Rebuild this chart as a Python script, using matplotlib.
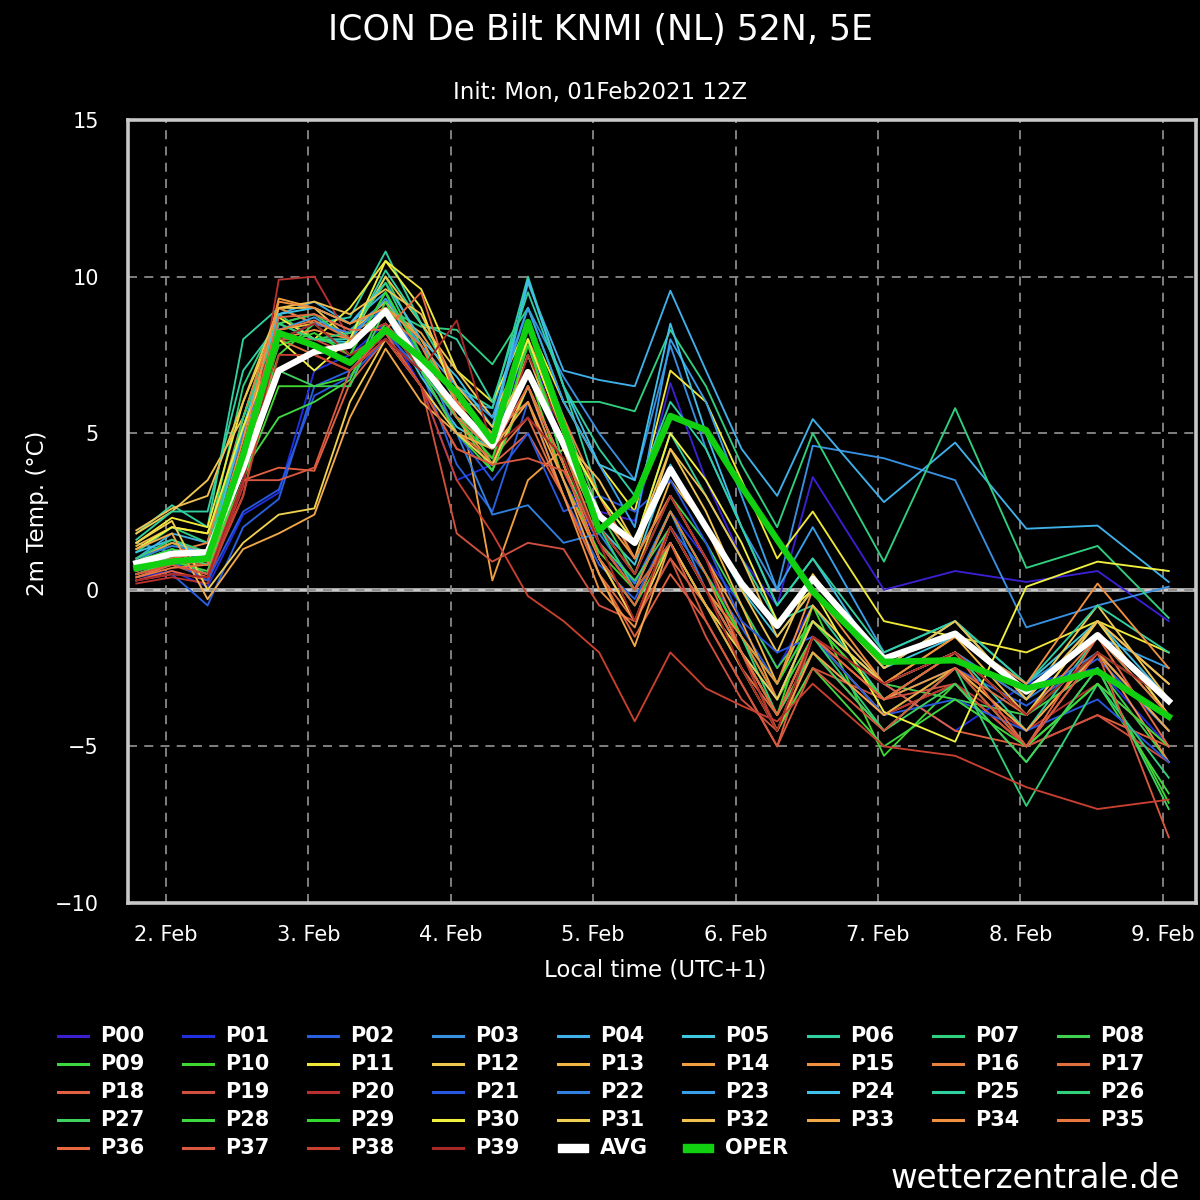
import matplotlib
matplotlib.use("Agg")
import matplotlib.pyplot as plt
from matplotlib.lines import Line2D
from matplotlib.patches import Rectangle

# forecast lead time in hours after init (01 Feb 12Z = 13 local)
lead_hours = [6, 12, 18, 24, 30, 36, 42, 48, 54, 60, 66, 72, 78, 84, 90, 96, 102, 108, 114, 120,
              132, 144, 156, 168, 180]
day_labels = ["2. Feb", "3. Feb", "4. Feb", "5. Feb", "6. Feb", "7. Feb", "8. Feb", "9. Feb"]
y_ticks = [-10, -5, 0, 5, 10, 15]

avg = [0.85, 1.15, 1.2, 3.9, 7.0, 7.6, 7.8, 8.9, 7.2, 5.8, 4.6, 6.95, 4.65, 2.35, 1.5, 3.85, 2.0, 0.2, -1.15, 0.35,
       -2.2, -1.4, -3.25, -1.45, -3.55]
oper = [0.7, 0.9, 1.0, 4.3, 8.2, 7.8, 7.25, 8.3, 7.4, 6.3, 4.75, 8.55, 5.2, 1.9, 2.9, 5.55, 5.1, 3.3, 1.6, -0.05,
        -2.3, -2.25, -3.15, -2.6, -4.05]

p00 = [0.5, 0.8, 0.6, 3.5, 8.5, 8.0, 7.8, 9.0, 7.5, 5.5, 4.5, 8.0, 4.5, 2.5, 2.2, 6.6, 3.5, 1.0, -0.5, 3.6, 0.0, 0.6, 0.25, 0.6, -1.0]
p01 = [0.4, 0.6, 0.1, 2.4, 3.1, 7.0, 7.5, 8.5, 6.5, 3.5, 4.0, 6.5, 3.5, 1.5, 0.2, 2.5, 1.0, -0.5, -2.5, -0.5, -3.0, -4.5, -3.0, -2.5, -5.0]
p02 = [0.3, 0.5, -0.5, 2.0, 2.9, 6.5, 7.0, 8.2, 7.0, 4.0, 2.5, 6.0, 3.0, 0.8, -0.3, 2.0, 0.5, -1.2, -3.0, -1.0, -3.5, -2.5, -3.7, -2.2, -4.5]
p03 = [1.5, 1.2, 1.0, 4.5, 8.5, 8.8, 8.3, 9.2, 7.8, 6.0, 5.8, 9.0, 6.8, 5.0, 3.5, 7.8, 4.5, 2.0, 0.0, 4.6, 4.2, 3.5, -1.2, -0.5, 0.1]
p04 = [1.0, 1.8, 1.5, 5.0, 8.8, 9.2, 8.5, 9.5, 7.0, 5.5, 5.0, 9.8, 7.0, 6.7, 6.5, 9.55, 7.0, 4.5, 3.0, 5.45, 2.8, 4.7, 1.95, 2.05, 0.25]
p05 = [0.8, 1.0, 0.8, 4.0, 8.0, 8.0, 7.9, 8.8, 6.8, 5.2, 4.5, 7.5, 4.5, 2.0, 0.8, 4.0, 2.0, 0.0, -1.5, 0.0, -2.5, -1.5, -3.0, -1.0, -3.0]
p06 = [1.8, 2.7, 2.0, 8.0, 9.0, 8.5, 8.7, 10.8, 8.5, 6.5, 5.8, 10.0, 6.5, 3.0, 1.5, 5.0, 3.0, 1.0, -1.0, -0.5, -3.5, -2.0, -4.5, -1.5, -4.0]
p07 = [1.2, 2.0, 1.5, 6.5, 8.8, 8.0, 7.8, 9.0, 8.4, 8.3, 7.2, 9.0, 6.0, 6.0, 5.7, 8.3, 6.5, 4.0, 2.0, 5.0, 0.9, 5.8, 0.7, 1.4, -0.9]
p08 = [0.9, 1.5, 1.0, 5.5, 8.5, 8.8, 8.0, 10.0, 7.8, 6.0, 4.0, 8.5, 5.5, 2.5, 0.5, 3.0, 1.5, -0.5, -2.5, -1.0, -3.0, -3.5, -4.0, -2.5, -5.5]
p09 = [0.7, 1.0, 0.5, 4.0, 7.5, 8.5, 7.5, 9.5, 7.5, 5.5, 3.8, 8.0, 4.0, 1.0, -0.5, 2.0, 0.0, -1.5, -3.5, -1.5, -4.0, -2.5, -5.0, -3.0, -6.5]
p10 = [0.6, 0.9, 0.8, 3.5, 6.5, 6.5, 6.8, 8.5, 7.0, 5.0, 4.5, 7.0, 3.5, 1.2, 0.0, 1.5, -0.5, -2.0, -4.0, -0.5, -5.3, -3.0, -5.5, -2.5, -6.8]
p11 = [1.5, 2.3, 2.0, 6.0, 8.7, 8.0, 9.0, 10.5, 9.6, 7.0, 6.0, 8.5, 6.0, 4.0, 2.5, 7.0, 6.0, 3.5, 1.0, 2.5, -1.0, -1.5, -2.0, -1.0, -2.0]
p12 = [1.8, 2.5, 3.5, 5.5, 9.0, 9.0, 8.0, 10.0, 8.5, 7.0, 5.5, 8.0, 5.0, 3.0, 1.0, 4.5, 2.5, 0.0, -2.0, 0.5, -2.5, -1.0, -3.5, -0.5, -3.5]
p13 = [1.4, 2.0, 1.8, 5.0, 8.3, 8.5, 8.2, 9.2, 8.0, 6.0, 4.5, 7.5, 4.5, 2.0, 0.5, 3.5, 2.0, -0.5, -3.0, -0.5, -3.0, -1.5, -4.0, -1.0, -4.0]
p14 = [1.0, 1.5, 1.2, 4.5, 9.3, 9.0, 8.5, 9.0, 8.2, 6.5, 0.3, 3.5, 4.5, 2.5, 1.0, 3.0, 1.0, -1.0, -3.5, -1.0, -3.5, -2.5, -4.5, -2.0, -4.5]
p15 = [0.5, 0.8, 0.5, 4.0, 8.0, 8.3, 8.0, 8.5, 7.2, 5.5, 4.0, 6.5, 3.5, 1.0, -1.0, 2.0, 0.0, -2.0, -4.5, -1.5, -4.0, -3.0, -5.0, -2.0, -5.5]
p16 = [0.6, 1.2, 1.5, 5.5, 9.0, 8.5, 8.2, 8.8, 7.5, 5.5, 5.0, 8.0, 5.5, 3.0, 1.0, 3.0, 1.0, -1.5, -3.5, -1.0, -3.0, -2.0, -3.5, -1.0, -3.0]
p17 = [0.4, 0.8, 0.4, 3.0, 8.0, 7.5, 7.0, 8.0, 7.0, 5.0, 4.2, 5.5, 3.0, 0.5, -1.0, 1.0, -0.5, -2.5, -4.0, -2.0, -4.5, -2.5, -4.0, -2.0, -4.5]
p18 = [0.3, 0.6, 0.3, 3.5, 3.9, 3.8, 6.6, 8.0, 6.5, 4.5, 4.0, 5.0, 3.0, 0.5, -1.5, 0.5, -1.0, -3.0, -5.0, -1.5, -3.0, -4.5, -5.0, -4.0, -5.0]
p19 = [0.5, 0.9, 0.8, 4.5, 8.0, 8.0, 7.5, 8.2, 6.5, 1.8, 0.9, 1.5, 1.3, -0.5, -1.0, 1.0, -1.5, -3.5, -4.5, -2.5, -3.5, -3.0, -5.0, -4.0, -5.5]
p20 = [0.2, 0.4, 0.2, 3.3, 9.9, 10.0, 8.0, 8.5, 7.0, 5.0, 4.0, 7.5, 5.0, 2.0, 0.5, 3.0, 1.0, -2.0, -4.5, -2.0, -4.0, -3.0, -4.5, -3.0, -5.0]
p21 = [0.6, 0.9, 0.3, 2.5, 3.2, 6.2, 6.8, 8.0, 7.0, 5.0, 3.5, 5.0, 2.5, 3.0, 2.5, 3.5, 1.5, -1.0, -2.0, -1.5, -4.0, -3.5, -4.5, -3.5, -5.5]
p22 = [1.0, 1.4, 1.2, 5.0, 8.0, 8.5, 8.2, 9.0, 7.5, 5.0, 2.4, 2.7, 1.5, 1.8, 0.2, 2.5, 0.0, -2.0, -3.5, -1.0, -3.0, -2.0, -3.5, -2.0, -4.5]
p23 = [0.9, 1.3, 1.0, 4.5, 8.3, 8.7, 8.0, 9.3, 7.8, 6.5, 5.5, 9.0, 6.0, 4.0, 2.0, 8.0, 6.0, 3.0, 0.0, 2.0, -2.0, -1.0, -3.0, -1.5, -2.5]
p24 = [1.2, 1.6, 1.0, 5.2, 8.8, 9.0, 8.5, 9.8, 8.0, 6.8, 5.2, 9.9, 6.5, 4.0, 3.5, 8.5, 5.0, 2.0, -0.5, 1.0, -2.5, -1.0, -3.5, -1.0, -3.5]
p25 = [1.6, 2.5, 2.5, 7.0, 8.5, 8.0, 8.0, 10.2, 8.5, 8.0, 6.0, 9.5, 6.5, 4.5, 3.0, 6.0, 4.5, 2.0, -0.5, 1.0, -2.0, -1.0, -3.0, -0.5, -2.0]
p26 = [1.0, 1.6, 1.2, 5.5, 8.5, 8.0, 8.2, 9.8, 7.5, 5.5, 4.5, 8.5, 5.0, 2.0, 0.0, 2.5, 0.5, -1.5, -4.0, -1.5, -4.5, -2.5, -6.9, -3.0, -6.0]
p27 = [0.8, 1.2, 0.8, 4.0, 7.0, 6.5, 6.5, 9.0, 7.0, 5.5, 4.8, 8.0, 4.0, 1.5, 0.3, 2.0, 0.0, -2.0, -4.0, -2.0, -4.5, -3.0, -5.5, -2.5, -7.0]
p28 = [0.5, 0.9, 0.6, 3.8, 5.5, 6.0, 6.7, 9.2, 7.0, 5.0, 3.8, 6.5, 4.0, 1.0, -0.5, 1.5, -0.5, -2.5, -4.5, -2.5, -5.0, -3.5, -5.0, -3.0, -5.0]
p29 = [0.9, 1.3, 1.0, 4.5, 7.8, 8.2, 7.5, 9.5, 7.5, 5.5, 4.2, 7.8, 4.5, 1.5, 0.0, 2.5, 0.5, -1.5, -3.0, -1.0, -3.5, -2.0, -4.0, -2.0, -3.5]
p30 = [1.3, 2.0, 1.8, 5.2, 8.0, 7.0, 8.0, 10.5, 9.0, 6.0, 5.0, 8.0, 5.0, 3.0, 1.5, 5.0, 3.5, 1.5, -1.0, 0.0, -3.9, -4.85, 0.1, 0.9, 0.6]
p31 = [1.5, 2.2, 0.0, 1.5, 2.4, 2.6, 6.0, 8.0, 6.5, 5.0, 4.0, 6.5, 4.0, 1.0, -1.0, 1.5, -0.5, -2.0, -3.5, -1.0, -3.0, -2.0, -4.0, -1.0, -4.0]
p32 = [1.9, 2.6, 3.0, 6.0, 9.0, 9.2, 8.8, 9.6, 8.8, 6.5, 5.2, 7.0, 4.8, 3.5, 1.5, 4.5, 3.0, 1.0, -1.5, 0.0, -2.5, -1.0, -3.5, -1.0, -3.0]
p33 = [1.3, 1.8, -0.3, 1.3, 1.8, 2.4, 5.5, 7.7, 6.0, 5.0, 4.5, 6.0, 3.5, 0.5, -1.8, 1.5, -0.5, -2.5, -4.5, -2.0, -4.0, -2.5, -4.5, -2.0, -4.5]
p34 = [0.7, 1.0, 0.9, 4.8, 9.2, 9.0, 8.5, 9.0, 8.0, 6.0, 5.0, 6.0, 3.0, 0.0, -1.2, 2.0, 0.0, -1.5, -3.0, 0.0, -3.0, -1.5, -3.0, 0.2, -2.5]
p35 = [0.4, 0.7, 0.8, 4.0, 8.3, 8.6, 8.0, 8.8, 7.8, 5.5, 4.5, 7.0, 4.5, 1.5, 0.0, 2.5, 0.5, -2.0, -4.0, -1.5, -3.5, -2.0, -4.0, -1.5, -4.0]
p36 = [0.6, 1.0, 1.2, 4.5, 8.7, 8.8, 8.3, 8.3, 9.5, 6.0, 4.5, 6.5, 4.0, 1.0, -0.5, 2.0, 0.0, -2.0, -4.0, -1.5, -3.5, -2.0, -5.0, -1.5, -5.0]
p37 = [0.5, 0.8, 0.5, 3.5, 3.5, 3.9, 7.0, 8.2, 6.5, 4.5, 4.0, 4.2, 3.8, 1.5, 0.0, 1.5, -1.0, -3.0, -5.0, -2.5, -4.5, -2.5, -5.0, -2.0, -7.9]
p38 = [0.3, 0.5, 0.4, 3.0, 7.5, 7.5, 7.0, 8.0, 6.5, 3.5, 1.8, -0.2, -1.0, -2.0, -4.2, -2.0, -3.15, -3.7, -4.2, -3.0, -5.0, -5.3, -6.3, -7.0, -6.7]
p39 = [0.3, 0.5, 0.4, 3.5, 8.0, 8.5, 7.5, 8.0, 7.0, 8.6, 4.5, 5.5, 4.2, 1.5, -1.0, 2.0, 0.0, -2.5, -4.5, -1.5, -3.0, -2.0, -4.0, -2.0, -3.5]

members = [p00, p01, p02, p03, p04, p05, p06, p07, p08, p09, p10, p11, p12, p13, p14, p15, p16, p17, p18, p19,
           p20, p21, p22, p23, p24, p25, p26, p27, p28, p29, p30, p31, p32, p33, p34, p35, p36, p37, p38, p39]

member_colors = [
    "#3a20d0", "#2030e0", "#2860e0", "#3890e0", "#40b0e8", "#40c8e0", "#30d0a0", "#30d080", "#40d050", "#40d840",
    "#40d830", "#f0e838", "#f0c850", "#f0b840", "#f0a040", "#f09040", "#e88040", "#e07040", "#e06040", "#d05040",
    "#b83030", "#2858e0", "#3080e0", "#38a0e8", "#40c0e8", "#30d0a0", "#30d078", "#40d060", "#40d840", "#30d830",
    "#f0f040", "#f0d050", "#f0c050", "#f0a848", "#f09040", "#e87840", "#e86840", "#d85840", "#c84030", "#a82828",
]

W = H = 1200
fig = plt.figure(figsize=(12, 12), dpi=100, facecolor="black")
ax = fig.add_axes([128 / W, 1 - 903 / H, (1196 - 128) / W, (903 - 120) / H])
ax.set_facecolor("black")

# lead hours -> days relative to 2 Feb 00 local time
x_days = [(h - 11) / 24 for h in lead_hours]

for vals, col in zip(members, member_colors):
    ax.plot(x_days, vals, color=col, lw=1.35, zorder=2)
ax.plot(x_days, avg, color="white", lw=4.6, zorder=3)
ax.plot(x_days, oper, color="#10d010", lw=4.6, zorder=4)

ax.set_xlim(-0.267, 7.233)
ax.set_ylim(-10, 15)
ax.set_xticks(range(len(day_labels)))
ax.set_xticklabels(day_labels)
ax.set_yticks(y_ticks)
ax.set_yticklabels(["\u221210", "\u22125", "0", "5", "10", "15"])
ax.tick_params(length=0, colors="white", labelsize=15)
ax.tick_params(axis="y", pad=21)
ax.tick_params(axis="x", pad=16)

ax.set_axisbelow(True)
ax.grid(True, color="#8a8a8a", lw=1.3, linestyle=(0, (5, 4)))
ax.axhline(0, color="#c8c8c8", lw=2.6, zorder=0.4)
for sp in ax.spines.values():
    sp.set_color("#c8c8c8")
    sp.set_linewidth(2.6)

fig.text(38 / W, 1 - 513 / H, "2m Temp. (\u00b0C)", color="white", fontsize=16.5,
         rotation=90, ha="center", va="center")
fig.text(655 / W, 1 - 970 / H, "Local time (UTC+1)", color="white", fontsize=16.5,
         ha="center", va="center")
fig.text(0.5, 1 - 30 / H, "ICON De Bilt KNMI (NL) 52N, 5E", color="white", fontsize=25,
         ha="center", va="center")
fig.text(0.5, 1 - 92 / H, "Init: Mon, 01Feb2021 12Z", color="white", fontsize=16.5,
         ha="center", va="center")
fig.text(1180 / W, 1 - 1178 / H, "wetterzentrale.de", color="white", fontsize=23.5,
         ha="right", va="center")

# legend, laid out row by row like the original
names = ["P%02d" % i for i in range(len(members))] + ["AVG", "OPER"]
colors = member_colors + ["white", "#10d010"]
for i, (name, col) in enumerate(zip(names, colors)):
    row, c = divmod(i, 9)
    x0 = 58 + 125 * c
    yy = 1036 + 28 * row
    if name in ("AVG", "OPER"):
        fig.add_artist(Rectangle((x0 / W, 1 - (yy + 4) / H), 30 / W, 8 / H,
                                 transform=fig.transFigure, color=col))
    else:
        fig.add_artist(Line2D([x0 / W, (x0 + 30) / W], [1 - yy / H, 1 - yy / H],
                              transform=fig.transFigure, color=col, lw=2.2))
    fig.text((x0 + 42) / W, 1 - yy / H, name, color="white", fontsize=15,
             fontweight="bold", ha="left", va="center")

fig.savefig("out.png", dpi=100, facecolor="black")
